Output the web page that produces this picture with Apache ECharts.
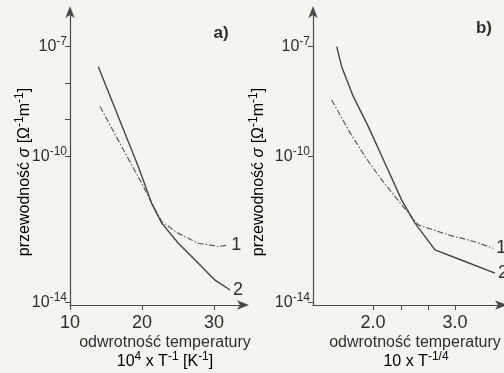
<!DOCTYPE html>
<html>
<head>
<meta charset="utf-8">
<script src="https://cdn.jsdelivr.net/npm/echarts@6/dist/echarts.min.js"></script>
<style>
html,body{margin:0;padding:0;background:#f4f4f1;}
#c{width:504px;height:373px;}
</style>
</head>
<body>
<div id="c"></div>
<script>
// Panel a) : x = 10^4 / T  [K^-1], y = log10(sigma)
const aCurve1X = [14.17, 17.18, 19.96, 21.35, 22.74, 25.04, 27.82, 30.6, 31.99];
const aCurve1Y = [-8.64, -9.74, -10.74, -11.29, -11.79, -12.11, -12.38, -12.47, -12.43];
const aCurve2X = [13.93, 16.71, 19.49, 21.35, 22.74, 25.04, 27.82, 30.14, 32.22];
const aCurve2Y = [-7.55, -8.92, -10.29, -11.29, -11.83, -12.38, -12.93, -13.39, -13.66];
// Panel b) : x = 10 * T^-1/4, y = log10(sigma)
const bCurve1X = [1.496, 1.699, 1.902, 2.106, 2.350, 2.552, 2.918, 3.244, 3.467];
const bCurve1Y = [-8.46, -9.28, -10.01, -10.65, -11.33, -11.88, -12.15, -12.34, -12.52];
const bCurve2X = [1.557, 1.618, 1.760, 1.943, 2.146, 2.350, 2.512, 2.756, 3.122, 3.488];
const bCurve2Y = [-7.00, -7.55, -8.37, -9.19, -10.19, -11.20, -11.83, -12.56, -12.88, -13.20];
// ticks
const aXTicks = [10, 20, 30];
const aXLabels = [10, 20, 30];
const bXTicks = [2.0, 2.35, 2.67, 3.0];
const bXLabels = [2.0, 3.0];
const aYTicks = [-14, -10, -9, -8, -7];
const bYTicks = [-14, -10, -7];
const yLabels = [-14, -10, -7];

const FONT = "'Liberation Sans',Arial,sans-serif";
const INK = '#2e2e2e';
const LINE = '#4a4a4a';

const pairs = (xs, ys) => xs.map((x, i) => [x, ys[i]]);
const supRich = {
  n: {fontFamily: FONT, fontSize: 16, color: INK, lineHeight: 22},
  s: {fontFamily: FONT, fontSize: 12, color: INK, verticalAlign: 'top', lineHeight: 12},
  g: {fontFamily: FONT, fontSize: 16, color: INK, lineHeight: 22, fontStyle: 'italic'}
};
const yLabelRich = {
  n: {fontFamily: FONT, fontSize: 16, color: INK, lineHeight: 22},
  s: {fontFamily: FONT, fontSize: 12, color: INK, verticalAlign: 'top', lineHeight: 12}
};

function xAxisCfg(idx, min, max, ticks, labels, fmt) {
  return {
    type: 'value', gridIndex: idx, min: min, max: max,
    splitLine: {show: false},
    axisLine: {show: true, symbol: ['none', 'arrow'], symbolSize: [7, 12], symbolOffset: [0, 4],
      lineStyle: {color: LINE, width: 1.2}},
    axisTick: {show: true, length: 5, customValues: ticks, lineStyle: {color: LINE, width: 1}},
    axisLabel: {show: true, customValues: labels, margin: 9, fontSize: 18, fontFamily: FONT, color: INK,
      formatter: fmt}
  };
}
function yAxisCfg(idx, ticks) {
  return {
    type: 'value', gridIndex: idx, min: -14.07, max: -6,
    splitLine: {show: false},
    axisLine: {show: true, symbol: ['none', 'arrow'], symbolSize: [7, 12], symbolOffset: [0, 4],
      lineStyle: {color: LINE, width: 1.2}},
    axisTick: {show: true, length: 5, customValues: ticks, lineStyle: {color: LINE, width: 1}},
    axisLabel: {show: true, customValues: yLabels, margin: 3,
      formatter: v => '{n|10}{s|' + Math.round(v) + '}', rich: yLabelRich}
  };
}
function lineSeries(xi, data, dashed, label) {
  return {
    type: 'line', xAxisIndex: xi, yAxisIndex: xi, data: data,
    showSymbol: false, smooth: false,
    lineStyle: {color: dashed ? '#5e5e5e' : '#444', width: dashed ? 1.2 : 1.4,
      type: dashed ? [6, 2, 1.5, 2] : 'solid'},
    endLabel: {show: true, formatter: label, distance: 3, fontSize: 18, fontFamily: FONT, color: INK},
    animation: false, silent: true
  };
}

const chart = echarts.init(document.getElementById('c'));
chart.setOption({
  backgroundColor: '#f4f4f1',
  animation: false,
  grid: [
    {left: 70, top: 10, width: 175, height: 295},
    {left: 313, top: 10, width: 190, height: 295}
  ],
  xAxis: [
    xAxisCfg(0, 10, 34.3, aXTicks, aXLabels, v => String(Math.round(v))),
    xAxisCfg(1, 1.268, 3.585, bXTicks, bXLabels, v => v.toFixed(1))
  ],
  yAxis: [yAxisCfg(0, aYTicks), yAxisCfg(1, bYTicks)],
  series: [
    lineSeries(0, pairs(aCurve1X, aCurve1Y), true, '1'),
    lineSeries(0, pairs(aCurve2X, aCurve2Y), false, '2'),
    lineSeries(1, pairs(bCurve1X, bCurve1Y), true, '1'),
    lineSeries(1, pairs(bCurve2X, bCurve2Y), false, '2')
  ],
  graphic: [
    {type: 'text', x: 221, y: 33, style: {text: 'a)', font: 'bold 17px ' + FONT, fill: INK, align: 'center', verticalAlign: 'middle'}},
    {type: 'text', x: 484, y: 28, style: {text: 'b)', font: 'bold 17px ' + FONT, fill: INK, align: 'center', verticalAlign: 'middle'}},
    {type: 'text', x: 165, y: 343, style: {text: 'odwrotność temperatury', font: '16px ' + FONT, fill: INK, align: 'center', verticalAlign: 'middle'}},
    {type: 'text', x: 165, y: 362, style: {text: '{n|10}{s|4}{n| x T}{s|-1}{n| [K}{s|-1}{n|]}', rich: supRich, align: 'center', verticalAlign: 'middle'}},
    {type: 'text', x: 415, y: 343, style: {text: 'odwrotność temperatury', font: '16px ' + FONT, fill: INK, align: 'center', verticalAlign: 'middle'}},
    {type: 'text', x: 416, y: 362, style: {text: '{n|10 x T}{s|-1/4}', rich: supRich, align: 'center', verticalAlign: 'middle'}},
    {type: 'text', x: 25, y: 172, rotation: Math.PI / 2, style: {text: '{n|przewodność }{g|σ}{n| [Ω}{s|-1}{n|m}{s|-1}{n|]}', rich: supRich, align: 'center', verticalAlign: 'middle'}},
    {type: 'text', x: 259, y: 172, rotation: Math.PI / 2, style: {text: '{n|przewodność }{g|σ}{n| [Ω}{s|-1}{n|m}{s|-1}{n|]}', rich: supRich, align: 'center', verticalAlign: 'middle'}}
  ]
});
</script>
</body>
</html>
